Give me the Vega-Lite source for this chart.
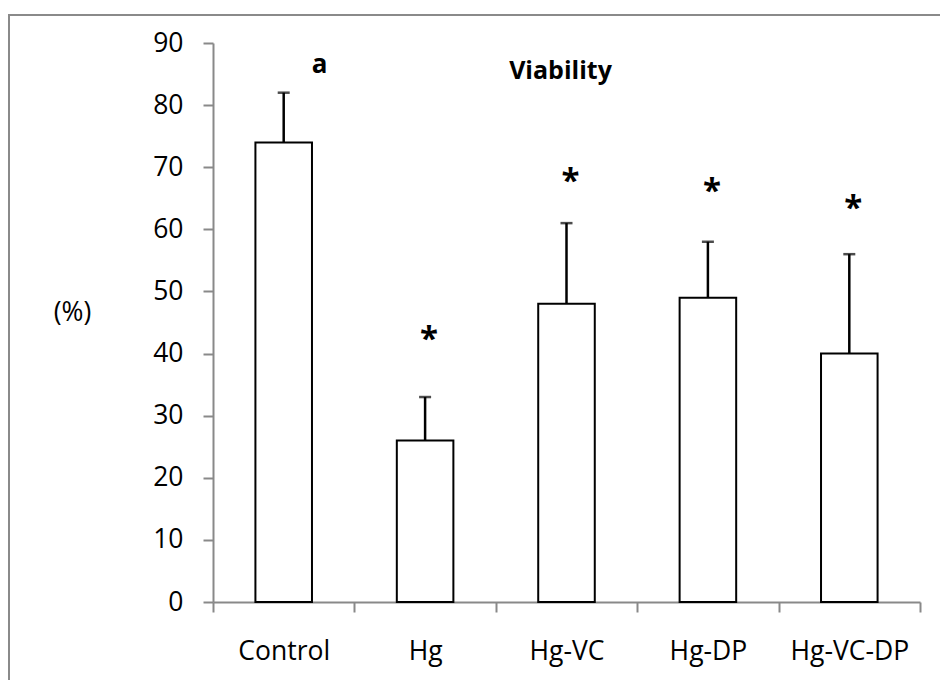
{
  "$schema": "https://vega.github.io/schema/vega-lite/v6.json",
  "width": 940,
  "height": 680,
  "autosize": "none",
  "padding": {"left": 9, "top": 15, "right": 0, "bottom": 0},
  "background": "white",
  "config": {
    "view": {"stroke": "#8a8a8a", "strokeWidth": 2},
    "font": "Open Sans"
  },
  "data": {
    "values": [
      {"group": "Control", "mean": 74, "upper": 82, "star": null},
      {"group": "Hg", "mean": 26, "upper": 33, "star": 43.3},
      {"group": "Hg-VC", "mean": 48, "upper": 61, "star": 68.7},
      {"group": "Hg-DP", "mean": 49, "upper": 58, "star": 67.1},
      {"group": "Hg-VC-DP", "mean": 40, "upper": 56, "star": 64.4}
    ]
  },
  "encoding": {
    "x": {
      "field": "group",
      "type": "nominal",
      "sort": null,
      "scale": {
        "domain": ["Control", "Hg", "Hg-VC", "Hg-DP", "Hg-VC-DP"],
        "range": [204, 911],
        "paddingInner": 0,
        "paddingOuter": 0
      },
      "axis": {
        "title": null,
        "labelAngle": 0,
        "offset": -93,
        "tickBand": "extent",
        "tickSize": 10,
        "tickColor": "#898989",
        "tickWidth": 2,
        "domainColor": "#898989",
        "domainWidth": 2,
        "labelFontSize": 26.5,
        "labelColor": "black",
        "labelPadding": 26,
        "labelFont": "Open Sans"
      }
    }
  },
  "layer": [
    {
      "mark": {"type": "bar", "fill": "white", "stroke": "black", "strokeWidth": 2, "width": {"band": 0.4}},
      "encoding": {
        "y": {
          "field": "mean",
          "type": "quantitative",
          "title": "(%)",
          "scale": {"domain": [0, 90], "range": [587, 28], "nice": false, "zero": true},
          "axis": {
            "title": "(%)",
            "titleAngle": 0,
            "titleX": -141,
            "titleY": 297,
            "titleAlign": "center",
            "titleBaseline": "middle",
            "titleFontSize": 26.5,
            "titleFontWeight": "normal",
            "titleColor": "black",
            "titleFont": "Open Sans",
            "offset": -204,
            "values": [0, 10, 20, 30, 40, 50, 60, 70, 80, 90],
            "grid": false,
            "domainColor": "#898989",
            "domainWidth": 2,
            "tickColor": "#898989",
            "tickWidth": 2,
            "tickSize": 10,
            "labelFontSize": 26.5,
            "labelColor": "black",
            "labelPadding": 20,
            "labelFont": "Open Sans"
          }
        }
      }
    },
    {
      "mark": {"type": "rule", "color": "black", "strokeWidth": 2.5},
      "encoding": {
        "y": {"field": "mean", "type": "quantitative", "title": "(%)"},
        "y2": {"field": "upper"}
      }
    },
    {
      "mark": {"type": "tick", "color": "black", "size": 12, "thickness": 2.5, "orient": "horizontal"},
      "encoding": {
        "y": {"field": "upper", "type": "quantitative", "title": "(%)"}
      }
    },
    {
      "transform": [{"filter": "datum.star != null"}],
      "mark": {"type": "text", "fontSize": 33, "fontWeight": "bold", "color": "black", "baseline": "middle", "dx": 4, "dy": 7},
      "encoding": {
        "y": {"field": "star", "type": "quantitative", "title": "(%)"},
        "text": {"value": "*"}
      }
    },
    {
      "data": {
        "values": [
          {"group": "Control", "pos": 85.2, "label": "a"}
        ]
      },
      "mark": {"type": "text", "fontSize": 26, "fontWeight": "bold", "color": "black", "baseline": "alphabetic", "dx": 36},
      "encoding": {
        "y": {"field": "pos", "type": "quantitative", "title": "(%)"},
        "text": {"field": "label"}
      }
    },
    {
      "data": {
        "values": [
          {"group": "Hg-VC", "pos": 84.2, "label": "Viability"}
        ]
      },
      "mark": {"type": "text", "fontSize": 25, "fontWeight": "bold", "color": "black", "baseline": "alphabetic", "dx": -6},
      "encoding": {
        "y": {"field": "pos", "type": "quantitative", "title": "(%)"},
        "text": {"field": "label"}
      }
    }
  ]
}
